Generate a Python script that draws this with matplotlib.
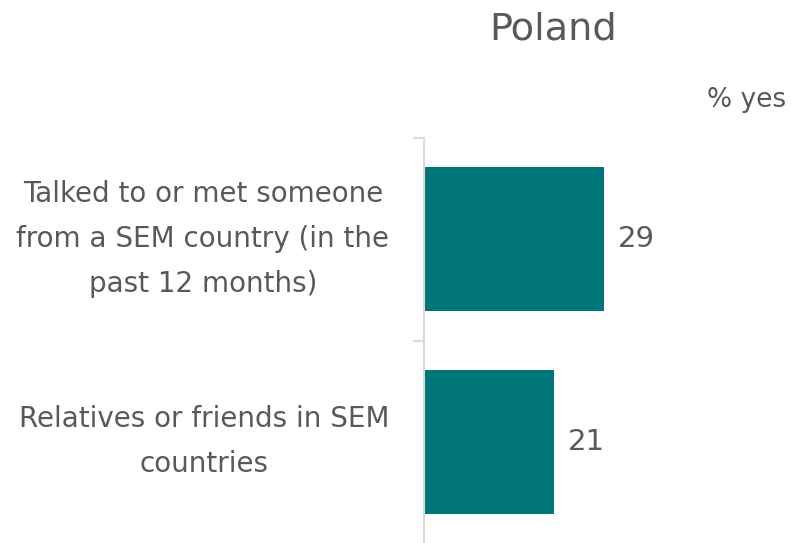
import matplotlib.pyplot as plt
import numpy as np

# Share of respondents answering "yes"
categories = ['Talked to or met someone\nfrom a SEM country (in the\npast 12 months)',
              'Relatives or friends in SEM\ncountries']
values = [29, 21]

teal = '#00757a'
grey_text = '#595959'
spine_grey = '#d9d9d9'

plt.rcParams['font.family'] = ['DejaVu Sans']

fig = plt.figure(figsize=(7.91, 5.43), dpi=100)
ax = fig.add_axes([424 / 791, 0, 310 / 791, 405 / 543])

y_pos = np.arange(len(categories))
bars = ax.barh(y_pos, values, height=0.71, color=teal)

ax.set_xlim(0, 50)
ax.set_ylim(len(categories) - 0.5, -0.5)

# value labels next to each bar
for rect, v in zip(bars, values):
    ax.annotate(str(v), (rect.get_width(), rect.get_y() + rect.get_height() / 2),
                xytext=(10, 0), textcoords='offset points', va='center', ha='left',
                fontsize=21, color=grey_text)

# category labels, boundary ticks between bands
ax.set_yticks(y_pos)
ax.set_yticklabels(categories, fontsize=20, color=grey_text, va='center',
                   multialignment='center', linespacing=1.78)
ax.tick_params(axis='y', which='major', length=0, pad=25)
ax.set_yticks(np.arange(-0.5, len(categories) - 1), minor=True)
ax.tick_params(axis='y', which='minor', length=8, width=1.5, color=spine_grey)
ax.set_xticks([])

for side in ['top', 'right', 'bottom']:
    ax.spines[side].set_visible(False)
ax.spines['left'].set_color(spine_grey)
ax.spines['left'].set_linewidth(1.5)

fig.text(553 / 791, 1 - 30 / 543, 'Poland', ha='center', va='center', fontsize=27.5, color=grey_text)
fig.text(786 / 791, 1 - 100 / 543, '% yes', ha='right', va='center', fontsize=19, color=grey_text)

fig.savefig('out.png', dpi=100)
